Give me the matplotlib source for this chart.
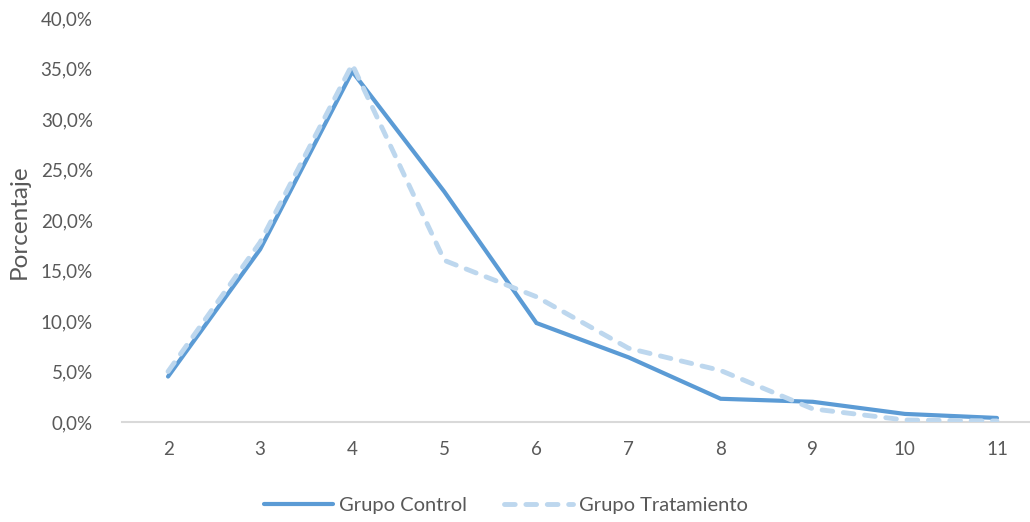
import matplotlib.pyplot as plt
from matplotlib.ticker import FuncFormatter
from matplotlib.lines import Line2D

plt.rcParams['font.family'] = ['Lato', 'DejaVu Sans']

# Datos
categorias = [2, 3, 4, 5, 6, 7, 8, 9, 10, 11]
grupo_control = [0.045, 0.171, 0.347, 0.228, 0.098, 0.064, 0.023, 0.020, 0.008, 0.004]
grupo_tratamiento = [0.050, 0.178, 0.354, 0.160, 0.124, 0.073, 0.051, 0.013, 0.002, 0.001]
y_ticks = [0.0, 0.05, 0.10, 0.15, 0.20, 0.25, 0.30, 0.35, 0.40]

COLOR_CONTROL = '#5B9BD5'
COLOR_TRAT = '#BDD7EE'
TEXT_GRAY = '#595959'

W, H = 1030, 522
fig = plt.figure(figsize=(W / 100, H / 100), dpi=100)
ax = fig.add_axes([122 / W, (H - 422) / H, (1043 - 122) / W, (422 - 18) / H])

ax.plot(categorias, grupo_control, color=COLOR_CONTROL, lw=3,
        solid_capstyle='round', solid_joinstyle='miter', zorder=3)
ax.plot(categorias, grupo_tratamiento, color=COLOR_TRAT, lw=3.5,
        dashes=(2.2, 2.2), dash_capstyle='round', zorder=4)

ax.set_xlim(1.5, 11.5)
ax.set_ylim(0, 0.40)
ax.set_xticks(categorias)
ax.set_yticks(y_ticks)
ax.yaxis.set_major_formatter(FuncFormatter(lambda v, p: f'{v * 100:.1f}%'.replace('.', ',')))
ax.tick_params(length=0, labelsize=13.5, colors=TEXT_GRAY)
ax.tick_params(axis='x', pad=14)
ax.tick_params(axis='y', pad=21)

for s in ['top', 'right', 'left']:
    ax.spines[s].set_visible(False)
ax.spines['bottom'].set_color('#D9D9D9')
ax.spines['bottom'].set_linewidth(1.5)

fig.text(19 / W, 1 - 222 / H, 'Porcentaje', rotation=90, ha='center', va='center',
         fontsize=17.5, color=TEXT_GRAY)

handles = [
    Line2D([], [], color=COLOR_CONTROL, lw=3, solid_capstyle='round'),
    Line2D([], [], color=COLOR_TRAT, lw=3.5, dashes=(2.2, 2.2), dash_capstyle='round'),
]
leg = fig.legend(handles, ['Grupo Control', 'Grupo Tratamiento'], loc='center',
                 bbox_to_anchor=(506 / W, 1 - 505 / H), ncol=2, frameon=False,
                 fontsize=14.5, handlelength=3.4, columnspacing=1.85, handletextpad=0.3)
for t in leg.get_texts():
    t.set_color(TEXT_GRAY)

fig.savefig('out.png', dpi=100)
